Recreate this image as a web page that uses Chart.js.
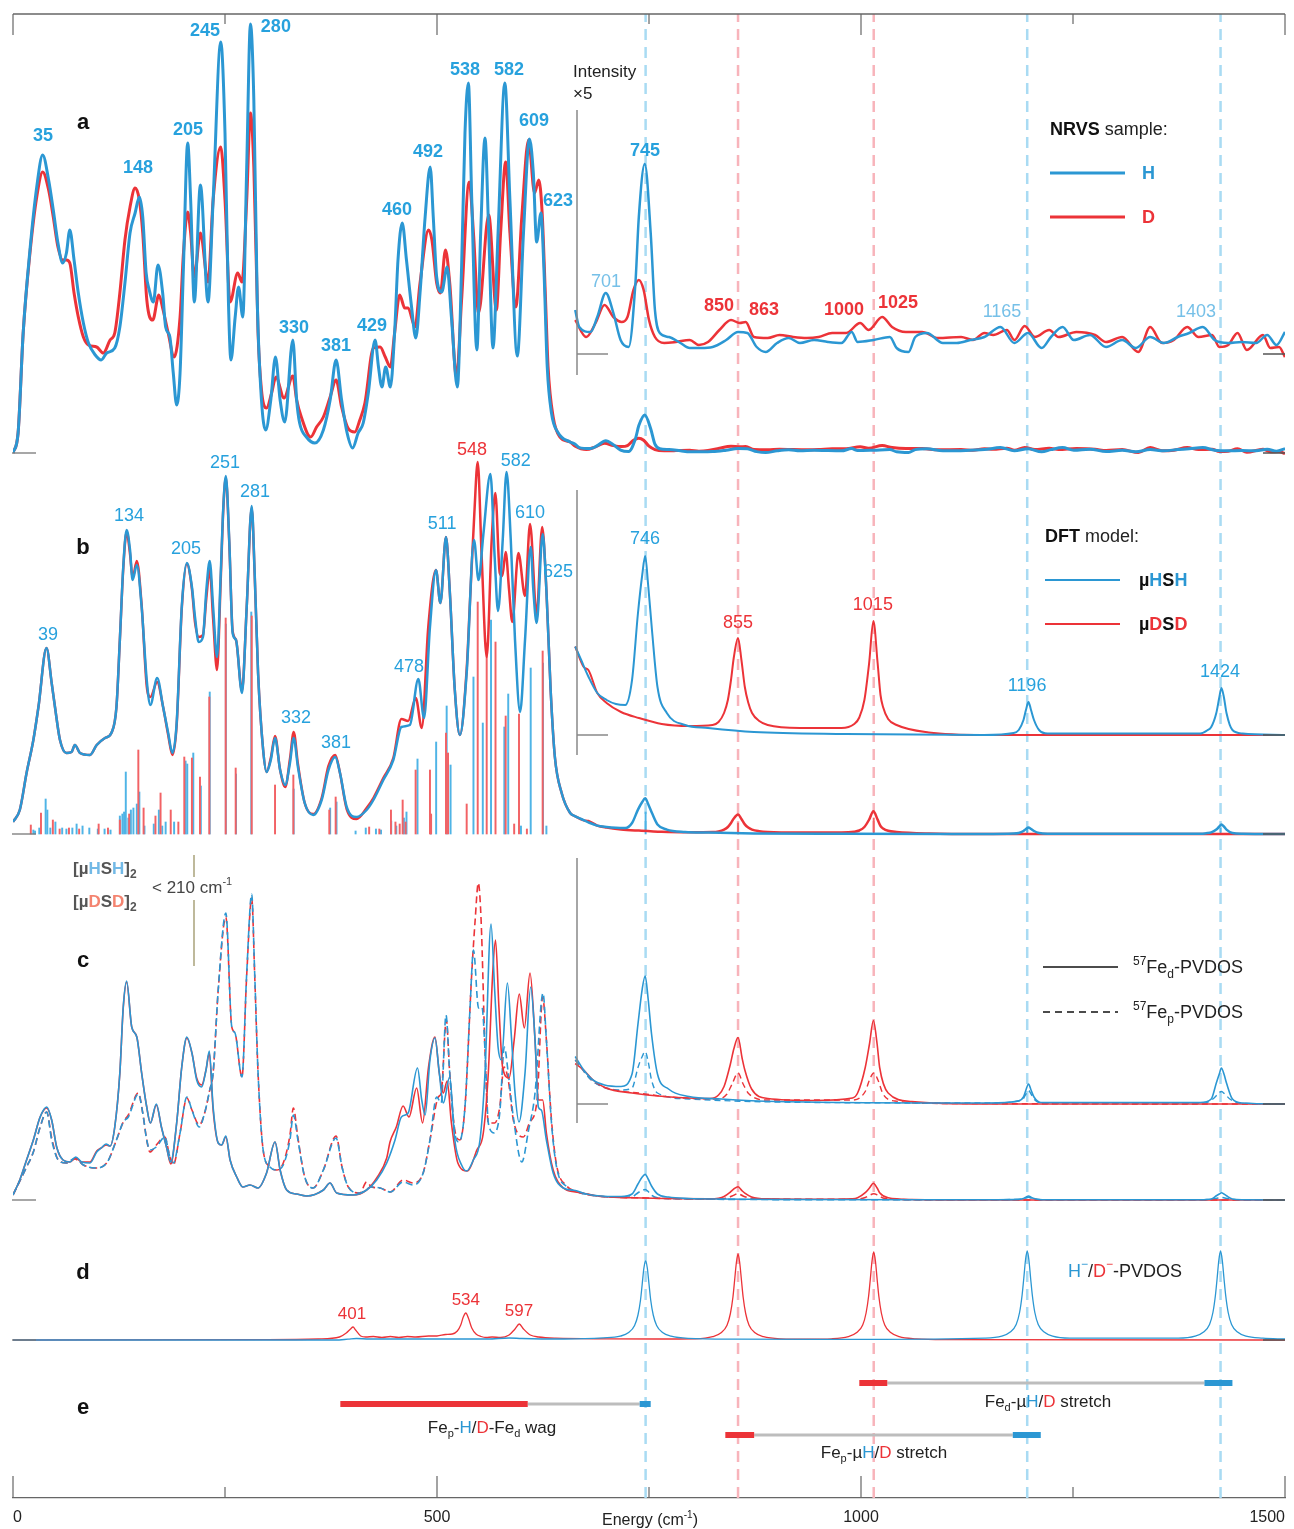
<!DOCTYPE html>
<html>
<head>
<meta charset="utf-8">
<script src="https://cdn.jsdelivr.net/npm/chart.js@4.4.1/dist/chart.umd.min.js"></script>
<style>
  html, body { margin: 0; padding: 0; background: #fff; }
  #wrap { width: 1294px; height: 1529px; }
</style>
</head>
<body>
<div id="wrap"><canvas id="nrvsChart"></canvas></div>
<script>
// energies in cm-1, heights in the units of each panel (inset = x5)

// a: NRVS sample
const nrvsH = [[0,0],[6,20],[12,120],[20,203],[28,266],[35,298],[42,273],[47.5,243],[53,210],[58.6,190],[63,200],[67,223],[72,193],[77,160],[83,130],[89,110],[97,98],[104,93],[110.5,100],[120,105],[126,126],[132,170],[138,220],[144,240],[149,256],[153,236],[157,180],[160.7,163],[165.5,151],[171,188],[176.5,160],[180,126],[185,116],[189,80],[193,48],[197,80],[201,186],[206,310],[209.5,253],[213.8,151],[221,268],[230,151],[236,253],[245,411],[250,320],[254,153],[257,93],[262,136],[266,166],[271,136],[275.6,286],[280,429],[284,353],[288,153],[293,53],[298,23],[304,53],[309.5,96],[315,53],[320.5,31],[330,113],[334.5,53],[338,30],[346,16],[356,10],[366,23],[374,53],[381,93],[387.5,53],[394,20],[400.5,5],[407,20],[413,30],[419,60],[427,113],[431,86],[435,66],[439.5,86],[445,66],[450,120],[454,193],[459,230],[464,193],[470,146],[475,115],[480,160],[486,236],[492,286],[495.6,236],[499.6,176],[505.5,161],[512,186],[517,136],[524,66],[529,186],[533,320],[537,370],[541,253],[547,103],[551.5,220],[556.6,315],[561,220],[566,105],[572,220],[580,370],[586,253],[594.7,97],[602,220],[609,314],[613.6,280],[617.5,211],[622.6,240],[626,186],[630,86],[635,40],[643,20],[657,11],
  [663,8.8],[667.7,5.4],[681,4.4],[689,7.4],[699,12.2],[708,8.2],[716.5,2.8],[726,1.4],[734,14.2],[738,27.4],[745,38],[752,24.2],[757,8.8],[762.7,4.2],[773.6,3.4],[787,2.2],[798,1.2],[811,1.2],[825,1.4],[841,2.8],[855,4.4],[866,4.2],[877,1.4],[887.6,0.4],[901,2.2],[914.7,3.2],[928,2.2],[944.6,2.8],[961,2.4],[977,2.2],[989,4.4],[996,2.4],[1015,2.8],[1034,3.4],[1042,1.2],[1056,0.4],[1064,3.4],[1077.6,4.2],[1096.6,2.2],[1113,2.2],[1129,2.8],[1145.5,3.4],[1164.5,5.4],[1180.8,2.2],[1197,4.2],[1213,1.2],[1224,3.4],[1237.7,5.4],[1251,2.8],[1270,3.8],[1289,1.4],[1308,2.8],[1324,1.2],[1341,3.4],[1357,2.2],[1373.5,3.4],[1387,4.2],[1403,5.4],[1417,2.8],[1433,2.2],[1449,2.4],[1466,2.2],[1479,3.8],[1490,1.8],[1500,4.4]];

const nrvsD = [[0,0],[6,20],[12,120],[20,200],[28,256],[35,281],[42,263],[47.5,236],[53,206],[58.6,193],[63,193],[67,190],[72,160],[77,136],[83,116],[89,108],[98.6,106],[106.6,100],[114.5,113],[120,120],[126,160],[132,213],[138,246],[144,265],[149,253],[153,220],[157.8,153],[164.8,133],[172,158],[177,143],[183,120],[190,96],[197,136],[201,200],[206,241],[209.5,220],[213.8,176],[221,220],[230,171],[236,253],[245,306],[250,253],[256,151],[265,180],[270,171],[275.6,253],[280,340],[284,286],[289,120],[293,63],[299,45],[305,60],[310,76],[319.6,55],[330,77],[334.5,53],[340,36],[351,16],[358,26],[366,36],[374,56],[381,73],[387.5,46],[395,25],[403,21],[409,33],[415,50],[425,105],[433,106],[439,96],[445,86],[450,120],[456,158],[462,145],[466,145],[474,126],[480,170],[490,223],[494,213],[499.6,170],[504,160],[510,203],[515,170],[523,76],[529,153],[538,271],[543,220],[549,140],[561,238],[570,143],[575,220],[581,291],[586,220],[593,146],[600,236],[608,313],[615,260],[620,273],[624,240],[628,153],[631,86],[637,36],[645,16],[657,11],
  [663,6.8],[676,3.4],[687,6.2],[697.5,9.8],[708,7.4],[717.7,6.4],[724.6,7.4],[731.7,12.8],[738,14.8],[743.7,12.8],[750,6.8],[757,3.4],[768,2.2],[781.7,2.4],[798,2.8],[808.8,1.8],[819.6,2.4],[833,4.8],[846.7,6.8],[857,6.2],[864,6.4],[873.8,3.4],[890,3.2],[903.9,3.8],[920,3.4],[936,3.2],[950,3.4],[966,4.2],[982.5,4.2],[999,6.2],[1009,4.8],[1025,7.4],[1036.6,5.4],[1053,4.4],[1072,4.4],[1091,3.2],[1118,3.4],[1132,2.8],[1145.5,4.2],[1156,3.8],[1172,4.8],[1181,2.8],[1193,5.6],[1205,3.4],[1222,4.8],[1233,3.4],[1254,4.4],[1276,3.8],[1289,2.4],[1308,3.4],[1327,0.4],[1341,5.4],[1355,2.2],[1369,2.8],[1384.7,5.4],[1398,3.4],[1414,3.8],[1422.6,1.4],[1433,1.8],[1444,4.2],[1455,0.8],[1474,3.8],[1482.6,1.2],[1493,1.4],[1500,-0.6]];

// b: DFT model, broadened spectra and sticks
const dftH = [[0,12],[8,24],[16,61],[24,94],[30,127],[39.5,186],[45.6,151],[49.5,127],[55.4,94],[63,81],[69,82],[73,89],[79,81],[90.8,79],[98.7,89],[108.5,96],[116,101],[122,127],[126,194],[130,267],[134,304],[138,284],[141,254],[146,269],[151.7,227],[157.7,154],[162,129],[170,156],[177,127],[183,101],[188,81],[193,111],[199,227],[205,271],[211,247],[214.6,217],[219,192],[224,197],[228,244],[232,273],[236,227],[240.6,177],[245,261],[248,327],[251,358],[255,294],[259,201],[263,194],[270,141],[275.6,227],[281.5,328],[285,261],[289,161],[295,84],[299,62],[304,74],[309,96],[315,64],[321,49],[326.6,71],[331,96],[336,67],[344,31],[354,19],[364,34],[372,64],[380,77],[385.6,61],[393.5,27],[405,17],[417,24],[425,34],[436.7,54],[448.5,74],[458,107],[468,109],[478,155],[484.7,116],[491.7,207],[498.8,264],[504,231],[510.6,297],[515,244],[521,144],[527,99],[535,161],[543.6,294],[549,254],[554.6,299],[563,360],[568,277],[572,223],[577.5,294],[582,362],[587,294],[592,194],[598,122],[603.8,194],[610.5,287],[613.6,244],[617.5,211],[624.6,300],[629,244],[634,144],[639,77],[647,41],[657,21],
  [663,17.7],[670,15],[678.5,11.7],[689,8.4],[700,7],[711,6.2],[722,6],[730,11],[737,24.4],[742,32],[745.5,35.8],[749,30],[753.5,21],[760,9.6],[771,4.4],[792.5,2],[819.6,1.4],[873.8,0.6],[982,0.2],[1145,0],[1180,0.4],[1186,1],[1191.6,3],[1194.5,5],[1197.5,6.6],[1200.5,5],[1204,3],[1210,1],[1220,0.3],[1400,0.3],[1408,0.9],[1413,1.6],[1419,4.4],[1422.5,7.5],[1425,9.4],[1428,7.5],[1431,4.4],[1438,1],[1450,0.3],[1500,0]];

const dftD = [[0,12],[8,24],[16,61],[24,94],[30,127],[39.5,186],[45.6,151],[49.5,127],[55.4,94],[63,81],[69,82],[73,89],[79,81],[90.8,79],[98.7,89],[108.5,96],[116,101],[122,127],[126,194],[130,265],[134,302],[138,280],[141,256],[146,273],[151.7,229],[157.7,148],[162,137],[170,152],[177,127],[183,99],[188,79],[193,109],[199,225],[205,270],[211,245],[214.6,212],[219,197],[224,199],[228,236],[232,264],[236,215],[240.6,164],[245,255],[248,325],[251,356],[255,292],[259,203],[263,194],[270,143],[275.6,227],[281.5,326],[285,259],[289,161],[295,84],[299,62],[304,76],[309,98],[315,64],[321,47],[326.6,75],[331,102],[336,70],[344,31],[354,20],[364,36],[372,68],[380,79],[385.6,61],[393.5,25],[405,15],[417,26],[425,36],[436.7,56],[448.5,76],[458,115],[466,113],[475,136],[482,106],[489.7,207],[498.8,264],[504,231],[510.6,297],[515,244],[521,144],[527,99],[535,165],[539,234],[544,320],[548,372],[552.7,277],[558.6,177],[564.5,294],[568.8,341],[574,261],[577,258],[581,282],[585,244],[588.8,212],[596,281],[603.8,238],[609.7,310],[617.5,219],[624,307],[629,244],[634,144],[639,77],[647,41],[657,21],
  [663,17.7],[673,13.6],[678.5,13],[689,8.4],[700,6.4],[717,4.6],[738,3.4],[765,2.2],[797.5,1.8],[825,2],[832,2.6],[838.5,4.4],[843,7],[846.7,11],[850,15.5],[855,19.4],[859,15],[863,9.6],[867,6.5],[871.5,4.4],[880,2.8],[890,2],[928,1.4],[977,1.4],[992,2.2],[998,3.5],[1004,7],[1009.6,14.4],[1014.6,22.8],[1019.6,14.4],[1023,8],[1026,5.6],[1032,3.2],[1042,2],[1080,0.5],[1145,0],[1500,0]];

const sticksH = [[24,4],[26,3],[31,6],[38.5,35],[40.5,24],[44,6],[50,12],[58,6],[63,5],[70,6],[75,10],[82,8],[90,6],[100,5],[108,5],[115,4],[126,18],[129,20],[131,22],[133,62],[136,16],[139,24],[142,26],[146,30],[149,42],[155,8],[166,10],[172,24],[176,8],[180,12],[190,12],[203.5,73],[205.5,70],[212.6,81],[221.5,48],[232,142],[251,210],[263,60],[281,222],[331,45],[374,26],[381.5,32],[404,3],[416,6],[428,5],[434,4],[446,13],[452,8],[461,16],[464,22],[477,75],[493,19],[499,92],[511.4,128],[516,69],[543,157],[554,111],[563.7,214],[579.4,107],[584,140],[599,8],[610.5,166],[625,171],[629,8],[746,22],[1196,5],[1424,6]];
const sticksD = [[21,9],[33,21],[47,14],[55,5],[66,6],[78,5],[101,10],[112,6],[126,14],[137,20],[147.8,84],[154,26],[168,18],[174,41],[186,24],[195,12],[202,77],[211,76],[220.5,57],[231.5,137],[250.8,216],[262.6,66],[281.5,218],[309,49],[330.6,59],[373,24],[380.5,37],[420,7],[432,5],[445.7,24],[451,12],[456,10],[459.5,34],[463,12],[474.8,64],[491.7,64],[493,20],[510.6,101],[513,81],[535,30],[548,232],[558.6,191],[569,192],[581,118],[591,10],[596.7,120],[606,5],[624.6,183],[855,11],[1015,16]];

// c: 57Fe partial VDOS of the dimers (d = distal, p = proximal)
const pvdosDH = [[0,5],[8,20],[16,40],[24,60],[32,83],[39.7,93],[45.6,80],[51.5,53],[59,40],[67,38],[74,43],[81,38],[90.8,37],[98.7,48],[104,52],[109.7,56],[114.5,54],[120,73],[126,127],[130,193],[134,219],[140,173],[146,163],[151.7,127],[157.7,93],[162,77],[169,96],[175,73],[181,53],[186,38],[193,77],[199,133],[205,163],[211,147],[216.6,120],[222.5,113],[227.6,130],[231.5,149],[236,93],[242,57],[246,55],[251,64],[256,40],[263.8,23],[271,13],[279.5,15],[289,12],[299,27],[309,58],[315,30],[322.7,10],[334.5,6],[346,4],[366,10],[373.8,17],[381.7,7],[401,5],[417,10],[428.9,20],[440.7,37],[450.5,60],[458,83],[466,87],[477,132],[482,100],[486,85],[491.7,140],[497.6,162],[502.7,127],[507.4,97],[515,123],[521,60],[529,35],[535,29],[542.8,40],[550.7,60],[556.6,127],[563.7,276],[568,210],[572,153],[576,140],[583,217],[588,160],[592,107],[596.7,78],[603.8,127],[610.5,213],[615.6,160],[619.5,93],[623,90],[629,60],[637,27],[649,12],
  [663,9.5],[673,6.8],[684,4.8],[697.5,3.8],[717,3.5],[730,6],[737,16],[742,23],[745.5,25.6],[749,21],[753,14],[760,6],[773,3],[797,1.5],[835,1],[901,0.5],[1150,0.2],[1186,0.6],[1191.6,1.4],[1194.5,2.8],[1197.6,4],[1200.5,2.8],[1204,1.4],[1212,0.3],[1400,0.3],[1413,1],[1419,4.2],[1422.5,6],[1425,7.2],[1428,6],[1431,4.2],[1438,1],[1450,0.2],[1500,0]];

const pvdosDD = [[0,5],[8,20],[16,40],[24,60],[32,83],[39.7,92],[45.6,80],[51.5,53],[59,40],[67,38],[74,42],[81,38],[90.8,38],[98.7,49],[104,52],[109.7,55],[114.5,54],[120,73],[126,127],[130,192],[134,218],[140,173],[146,163],[151.7,127],[157.7,93],[162,77],[169,95],[175,73],[181,53],[186,36],[193,77],[199,133],[205,162],[211,147],[216.6,122],[222.5,115],[227.6,130],[231.5,147],[236,90],[242,57],[246,55],[251,63],[256,40],[263.8,23],[271,13],[279.5,15],[289,12],[299,27],[309,58],[315,30],[322.7,10],[334.5,6],[346,4],[366,10],[373.8,17],[381.7,7],[401,5],[417,10],[428.9,22],[440.7,42],[444.6,58],[452,73],[460,94],[467,83],[476,112],[483,77],[490,133],[497.6,163],[502.7,127],[507.4,107],[512,119],[517,77],[524.6,37],[536,29],[547,50],[554.6,67],[560.5,127],[565.7,227],[569,260],[573,193],[577.3,133],[585,122],[591,160],[597,206],[603,172],[609.7,227],[615.6,160],[619.5,100],[624.6,100],[629,67],[637,30],[649,12],
  [663,8.1],[673,6.8],[684,4.8],[699,3.2],[730,2.2],[768,1.5],[822,1.1],[832,1.8],[838.5,3.5],[846,8],[850,11],[855,13.3],[860,9],[863,6.8],[871,3],[890,1.1],[945,0.7],[990,1.2],[996,2.2],[1005,7.3],[1010,12],[1014.6,16.7],[1019,12],[1022,7.3],[1032,2.2],[1060,0.5],[1145,0],[1500,0]];

const pvdosPH = [[0,5],[16,33],[24,48],[32,73],[39.7,88],[45.6,60],[53.4,40],[63,37],[73,42],[83,35],[96.7,32],[110.5,37],[122,60],[130,78],[136,83],[147.8,106],[153,87],[157.7,60],[161.5,50],[169,53],[179,63],[185,43],[189,37],[197,67],[205,103],[211,90],[219.7,73],[226,87],[232,110],[236,127],[242,210],[251,287],[258,173],[261.8,167],[270,123],[275.6,227],[281.5,306],[285,227],[289,127],[295,50],[303,33],[311,30],[318.7,35],[326.6,60],[330.6,85],[336,60],[344,23],[354,12],[366,30],[381,62],[388,33],[395.4,13],[409,7],[423,13],[433,12],[445,8],[460,18],[472,15],[483.7,27],[491.7,60],[499.6,103],[505,97],[510.6,185],[515,127],[521,67],[526,58],[533,93],[539,193],[543,250],[549,192],[553,193],[557,143],[560.5,77],[567.6,67],[574,87],[579.4,153],[584,127],[590,83],[600,38],[608,70],[615.6,107],[625,207],[629,160],[635,77],[641,33],[653,13],
  [663,8.8],[684,4.5],[717,2.8],[730,3.2],[737,7.3],[742,9.5],[745.5,10.5],[749,8.5],[753,4.8],[760,2.2],[797,1],[900,0.4],[1150,0.2],[1190,0.8],[1194.5,2],[1197.6,2.7],[1200.5,2],[1205,0.8],[1215,0.2],[1405,0.2],[1415,1],[1421,2],[1425,2.5],[1429,2],[1435,1],[1445,0.2],[1500,0]];

const pvdosPD = [[0,5],[16,33],[24,48],[32,73],[39.7,88],[45.6,62],[53.4,40],[63,37],[73,41],[83,35],[96.7,32],[110.5,37],[122,60],[130,78],[136,85],[147.8,107],[153,87],[157.7,60],[161.5,48],[169,55],[179,63],[185,43],[189,35],[197,67],[205,102],[211,90],[219.7,75],[226,87],[232,110],[236,127],[242,210],[251,283],[258,173],[261.8,167],[270,123],[275.6,225],[281.5,302],[285,225],[289,127],[295,50],[303,33],[311,30],[318.7,37],[326.6,65],[330.6,92],[336,62],[344,23],[354,12],[366,30],[381,64],[388,33],[395.4,13],[409,7],[417,18],[423,13],[433,12],[445,8],[460,20],[472,17],[483.7,27],[491.7,60],[501.6,103],[505,107],[511,180],[515,127],[521,70],[527,60],[533,93],[541,227],[545,280],[548.7,317],[552,280],[556.6,150],[560.5,77],[568,77],[574,93],[579,133],[584,120],[590,80],[601.8,63],[609,77],[618,100],[624.6,203],[629,160],[635,80],[641,35],[653,14],
  [663,8.8],[684,4.5],[717,2.6],[738,2.2],[768,1.5],[830,1],[842,2],[848,4],[855,6.2],[861,4],[868,2],[890,0.8],[990,0.8],[1005,2.5],[1010,4.8],[1015,6.2],[1020,4.8],[1026,2],[1040,0.6],[1100,0.1],[1500,0]];

// d: H-/D- partial VDOS
const hydrideH = [[0,0],[380,0],[395,0.8],[405,1.5],[420,1],[500,1],[560,1],[585,2],[600,1.5],[650,1],[696,2.1],[716,3.8],[726,7.4],[733,14.5],[737,25],[740,40],[742,56],[744,72],[746,79],[748,72],[750,56],[752,40],[755,25],[759,14.5],[766,7.4],[776,3.8],[796,1.6],[850,0.8],[1000,0.6],[1146,1.8],[1166,3.8],[1176,8],[1183,15.5],[1187,27.5],[1190,45],[1192,62],[1194,80],[1196,89],[1198,80],[1200,62],[1202,45],[1205,27.5],[1209,15.5],[1216,8],[1226,3.8],[1246,1.8],[1374,1.8],[1394,3.8],[1404,8],[1411,15.5],[1415,27.5],[1418,45],[1420,62],[1422,80],[1424,89],[1426,80],[1428,62],[1430,45],[1433,27.5],[1437,15.5],[1444,8],[1454,3.8],[1474,1.8],[1500,1]];
const hydrideD = [[0,0],[300,0.3],[360,1],[385,3],[393,7],[398,11],[401,13],[404,10],[410,4],[416,3],[425,3.5],[435,2.5],[445,3.5],[455,2.5],[465,3.5],[475,3],[490,4],[500,4],[510,5.5],[518,6],[524,9],[528,15],[531,23],[534,27],[537,22],[541,12],[546,6],[552,3.5],[558,2.5],[565,3],[575,2.5],[585,5],[592,11],[597,16],[602,11],[610,5],[620,3],[640,1.8],[700,1.2],[760,1],[805,1.2],[825,3.3],[835,7.3],[842,14.8],[846,26.5],[849,43],[851,60],[853,77],[855,86],[857,77],[859,60],[861,43],[864,26.5],[868,14.8],[875,7.3],[885,3.3],[905,1.2],[940,0.8],[965,1.2],[985,3.4],[995,7.4],[1002,15],[1006,27],[1009,44],[1011,61],[1013,79],[1015,88],[1017,79],[1019,61],[1021,44],[1024,27],[1028,15],[1035,7.4],[1045,3.4],[1065,1.2],[1100,0.4],[1500,0]];

// e: mode assignments [D range, H range]
const modeWag = [[386, 607], [739, 752]];
const modeStretchP = [[840, 874], [1179, 1212]];
const modeStretchD = [[998, 1031], [1405, 1438]];

// vertical guides
const guidesH = [746, 1196, 1424];
const guidesD = [855, 1015];

const BLUE = '#2b97d3', RED = '#ec3338', LBLUE = '#4fb4e6', LRED = '#f26265';
const FONT = '"Liberation Sans", Arial, sans-serif';
// panel baselines in y-axis units
const BASE = { a: 1045, aIn: 1144, b: 664, bIn: 763, c: 298, cIn: 394, d: 158 };
const INSET_FROM = 663;

function place(points, base, scale, from) {
  return points.filter(p => p[0] >= (from ?? -1)).map(p => ({ x: p[0], y: base + p[1] * (scale ?? 1) }));
}
function curve(data, color, width, order, dash) {
  return { type: 'line', data, borderColor: color, borderWidth: width, borderDash: dash || [],
    pointRadius: 0, fill: false, cubicInterpolationMode: 'monotone', order };
}
function sticks(list, base, color) {
  return { type: 'bar', data: list.map(s => ({ x: s[0], y: [base, base + s[1]] })),
    backgroundColor: color, barThickness: 1.3, grouped: false, order: 40 };
}
function segment(range, y, color, width, order) {
  return { type: 'line', data: [{ x: range[0], y }, { x: range[1], y }], borderColor: color,
    borderWidth: width, pointRadius: 0, borderCapStyle: 'butt', order };
}

const datasets = [];
guidesH.forEach(e => datasets.push({ type: 'line', data: [{ x: e, y: 0 }, { x: e, y: 1484 }], borderColor: '#a9dbf3', borderWidth: 2.5, borderDash: [11, 7], pointRadius: 0, order: 60 }));
guidesD.forEach(e => datasets.push({ type: 'line', data: [{ x: e, y: 0 }, { x: e, y: 1484 }], borderColor: '#f8b4bb', borderWidth: 2.5, borderDash: [11, 7], pointRadius: 0, order: 60 }));

// a
datasets.push(curve(place(nrvsD, BASE.a), RED, 3, 31));
datasets.push(curve(place(nrvsH, BASE.a), BLUE, 3, 30));
datasets.push(curve(place(nrvsD, BASE.aIn, 5, INSET_FROM), RED, 2.5, 31));
datasets.push(curve(place(nrvsH, BASE.aIn, 5, INSET_FROM), BLUE, 2.5, 30));
// b
datasets.push(sticks(sticksD, BASE.b, LRED));
datasets.push(sticks(sticksH, BASE.b, LBLUE));
datasets.push(curve(place(dftD, BASE.b), RED, 2.5, 31));
datasets.push(curve(place(dftH, BASE.b), BLUE, 2.5, 30));
datasets.push(curve(place(dftD, BASE.bIn, 5, INSET_FROM), RED, 2, 31));
datasets.push(curve(place(dftH, BASE.bIn, 5, INSET_FROM), BLUE, 2, 30));
// c
datasets.push(curve(place(pvdosPD, BASE.c), RED, 1.6, 33, [7, 4]));
datasets.push(curve(place(pvdosPH, BASE.c), BLUE, 1.6, 32, [7, 4]));
datasets.push(curve(place(pvdosDD, BASE.c), RED, 1.6, 31));
datasets.push(curve(place(pvdosDH, BASE.c), BLUE, 1.6, 30));
datasets.push(curve(place(pvdosPD, BASE.cIn, 5, INSET_FROM), RED, 1.4, 33, [6, 4]));
datasets.push(curve(place(pvdosPH, BASE.cIn, 5, INSET_FROM), BLUE, 1.4, 32, [6, 4]));
datasets.push(curve(place(pvdosDD, BASE.cIn, 5, INSET_FROM), RED, 1.6, 31));
datasets.push(curve(place(pvdosDH, BASE.cIn, 5, INSET_FROM), BLUE, 1.6, 30));
// d
datasets.push(curve(place(hydrideD, BASE.d), RED, 1.3, 31));
datasets.push(curve(place(hydrideH, BASE.d), BLUE, 1.3, 30));
// e
[[modeWag, 94], [modeStretchD, 115], [modeStretchP, 63]].forEach(([m, y]) => {
  datasets.push(segment([m[0][1], m[1][0]], y, '#bdbdbd', 3, 22));
  datasets.push(segment(m[0], y, RED, 6, 20));
  datasets.push(segment(m[1], y, BLUE, 6, 20));
});

// peak labels: [text, energy, y-axis value]
const labelsA = [['35',35.4,1362],['148',147.4,1330],['205',206.4,1368],['245',226.4,1467],['280',310,1471],['330',331.4,1170],['381',381,1152],['429',423.3,1172],['460',452.8,1288],['492',489.4,1346],['538',533,1428],['582',585,1428],['609',614.4,1377],['623',642.7,1297],['745',745.3,1347]];
const labelsAFaint = [['701',699.3,1216],['1165',1166.3,1186],['1403',1395,1186]];
const labelsARed = [['850',832.5,1192],['863',885.6,1188],['1000',980,1188],['1025',1043.6,1195]];
const labelsB = [['39',41.3,863],['134',136.8,982],['205',204,949],['251',250,1035],['281',285.4,1006],['332',333.7,780],['381',381,755],['478',467,831],['511',506,974],['582',593,1037],['610',609.7,985],['625',642.7,926],['746',745.3,959],['1196',1195.8,812],['1424',1423.3,826]];
const labelsBRed = [['548',541.3,1048],['855',855,875],['1015',1014,893]];
const labelsD = [['401',399.8,184],['534',534,198],['597',596.7,187]];

function rich(ctx, x, y, parts, align) {
  let w = 0;
  parts.forEach(p => { ctx.font = p[2]; w += ctx.measureText(p[0]).width; });
  let cx = align === 'center' ? x - w / 2 : x;
  ctx.textAlign = 'left';
  ctx.textBaseline = 'alphabetic';
  parts.forEach(p => {
    ctx.font = p[2]; ctx.fillStyle = p[1];
    ctx.fillText(p[0], cx, y + (p[3] || 0));
    cx += ctx.measureText(p[0]).width;
  });
}
function hline(ctx, x1, x2, y, color, w, dash) {
  ctx.save(); ctx.strokeStyle = color; ctx.lineWidth = w; ctx.setLineDash(dash || []);
  ctx.beginPath(); ctx.moveTo(x1, y); ctx.lineTo(x2, y); ctx.stroke(); ctx.restore();
}
function vl(ctx, x, y1, y2, color, w) {
  ctx.save(); ctx.strokeStyle = color; ctx.lineWidth = w;
  ctx.beginPath(); ctx.moveTo(x, y1); ctx.lineTo(x, y2); ctx.stroke(); ctx.restore();
}

const decorations = {
  id: 'decorations',
  afterDraw(chart) {
    const { ctx, scales: { x, y } } = chart;
    const px = e => x.getPixelForValue(e), py = v => y.getPixelForValue(v);
    const top = chart.chartArea.top, bottom = chart.chartArea.bottom;

    // frame ticks (top axis down, bottom axis up)
    hline(ctx, px(0), px(1500), top, '#666', 1.3);
    [0, 250, 500, 750, 1000, 1250, 1500].forEach(e => {
      const major = e % 500 === 0;
      vl(ctx, px(e), top, top + (major ? 21 : 10), '#666', 1.2);
      vl(ctx, px(e), bottom, bottom - (major ? 22 : 11), '#666', 1.2);
    });

    // baseline ticks and inset axes
    [BASE.a, BASE.b, BASE.c, BASE.d].forEach(b => hline(ctx, px(0) - 1, px(0) + 23, py(b), '#777', 1.3));
    [BASE.a, BASE.aIn, BASE.bIn, BASE.b, BASE.cIn, BASE.c, BASE.d].forEach(b => hline(ctx, px(1500) - 22, px(1500), py(b), '#555', 1.5));
    [[BASE.aIn, 110, 375], [BASE.bIn, 490, 755], [BASE.cIn, 858, 1123]].forEach(([b, y1, y2]) => {
      vl(ctx, 577, y1, y2, '#888', 1.5);
      hline(ctx, 577, 608, py(b), '#888', 1.5);
    });

    // peak labels
    ctx.textAlign = 'center'; ctx.textBaseline = 'middle';
    const put = (list, color, font) => {
      ctx.font = font; ctx.fillStyle = color;
      list.forEach(l => ctx.fillText(l[0], px(l[1]), py(l[2])));
    };
    put(labelsA, '#27a1dd', 'bold 18px ' + FONT);
    put(labelsAFaint, '#76c0e8', '18px ' + FONT);
    put(labelsARed, RED, 'bold 18px ' + FONT);
    put(labelsB, '#27a1dd', '18px ' + FONT);
    put(labelsBRed, RED, '18px ' + FONT);
    put(labelsD, RED, '17px ' + FONT);

    // panel letters
    ctx.font = 'bold 22px ' + FONT; ctx.fillStyle = '#111';
    [['a', 123], ['b', 548], ['c', 961], ['d', 1273], ['e', 1408]].forEach(([t, yy]) => ctx.fillText(t, 83, yy));

    const R = '18px ' + FONT, B = 'bold 18px ' + FONT, S = '12px ' + FONT;
    // inset note
    rich(ctx, 573, 77, [['Intensity', '#222', '17px ' + FONT]]);
    rich(ctx, 573, 99, [['×5', '#222', '17px ' + FONT]]);

    // legend a
    rich(ctx, 1050, 135, [['NRVS', '#111', B], [' sample:', '#222', R]]);
    hline(ctx, 1050, 1125, 173, BLUE, 3); rich(ctx, 1142, 179, [['H', BLUE, B]]);
    hline(ctx, 1050, 1125, 217, RED, 3); rich(ctx, 1142, 223, [['D', RED, B]]);
    // legend b
    rich(ctx, 1045, 542, [['DFT', '#111', B], [' model:', '#222', R]]);
    hline(ctx, 1045, 1120, 580, BLUE, 2); rich(ctx, 1139, 586, [['µ', '#111', B], ['H', BLUE, B], ['S', '#111', B], ['H', BLUE, B]]);
    hline(ctx, 1045, 1120, 624, RED, 2); rich(ctx, 1139, 630, [['µ', '#111', B], ['D', RED, B], ['S', '#111', B], ['D', RED, B]]);
    // legend c
    hline(ctx, 1043, 1118, 967, '#111', 1.3);
    hline(ctx, 1043, 1118, 1012, '#111', 1.3, [7, 5]);
    rich(ctx, 1133, 973, [['57', '#222', S, -8], ['Fe', '#222', R], ['d', '#222', S, 5], ['-PVDOS', '#222', R]]);
    rich(ctx, 1133, 1018, [['57', '#222', S, -8], ['Fe', '#222', R], ['p', '#222', S, 5], ['-PVDOS', '#222', R]]);
    // legend d
    rich(ctx, 1068, 1277, [['H', BLUE, R], ['−', BLUE, S, -9], ['/', '#222', R], ['D', RED, R], ['−', RED, S, -9], ['-PVDOS', '#222', R]]);

    // dimer note in c
    const GB = 'bold 17px ' + FONT, GS = 'bold 12px ' + FONT, G = '#555';
    rich(ctx, 73, 874, [['[µ', G, GB], ['H', '#72b9e6', GB], ['S', G, GB], ['H', '#72b9e6', GB], [']', G, GB], ['2', G, GS, 4]]);
    rich(ctx, 73, 907, [['[µ', G, GB], ['D', '#f48470', GB], ['S', G, GB], ['D', '#f48470', GB], [']', G, GB], ['2', G, GS, 4]]);
    rich(ctx, 152, 893, [['< 210 cm', '#444', '17px ' + FONT], ['-1', '#444', '11px ' + FONT, -8]]);
    vl(ctx, 194, 855, 877, '#a9a27a', 1.5);
    vl(ctx, 194, 900, 966, '#a9a27a', 1.5);

    // mode labels in e
    const E = '17px ' + FONT, ES = '11px ' + FONT, K = '#222';
    rich(ctx, 492, 1433, [['Fe', K, E], ['p', K, ES, 4], ['-', K, E], ['H', BLUE, E], ['/', K, E], ['D', RED, E], ['-Fe', K, E], ['d', K, ES, 4], [' wag', K, E]], 'center');
    rich(ctx, 1048, 1407, [['Fe', K, E], ['d', K, ES, 4], ['-µ', K, E], ['H', BLUE, E], ['/', K, E], ['D', RED, E], [' stretch', K, E]], 'center');
    rich(ctx, 884, 1458, [['Fe', K, E], ['p', K, ES, 4], ['-µ', K, E], ['H', BLUE, E], ['/', K, E], ['D', RED, E], [' stretch', K, E]], 'center');

    // axis title
    rich(ctx, 650, 1525, [['Energy (cm', '#222', '16px ' + FONT], ['-1', '#222', '10px ' + FONT, -7], [')', '#222', '16px ' + FONT]], 'center');
  }
};

new Chart(document.getElementById('nrvsChart'), {
  type: 'line',
  data: { datasets },
  options: {
    responsive: true,
    maintainAspectRatio: false,
    animation: false,
    layout: { padding: { left: 13, right: 9, top: 14, bottom: 0 } },
    plugins: { legend: { display: false }, tooltip: { enabled: false }, title: { display: false } },
    scales: {
      x: {
        type: 'linear', min: 0, max: 1500, offset: false,
        grid: { display: false, drawTicks: false },
        border: { display: true, color: '#666', width: 1.3 },
        ticks: { stepSize: 250, padding: 10, color: '#222', font: { size: 16, family: FONT },
          maxRotation: 0, autoSkip: false, align: 'inner',
          callback: v => (v % 500 === 0 ? String(v) : '') },
        afterFit: s => { s.height = 31; s.paddingLeft = 0; s.paddingRight = 0; }
      },
      y: { display: false, min: 0, max: 1484 }
    }
  },
  plugins: [decorations]
});
</script>
</body>
</html>
